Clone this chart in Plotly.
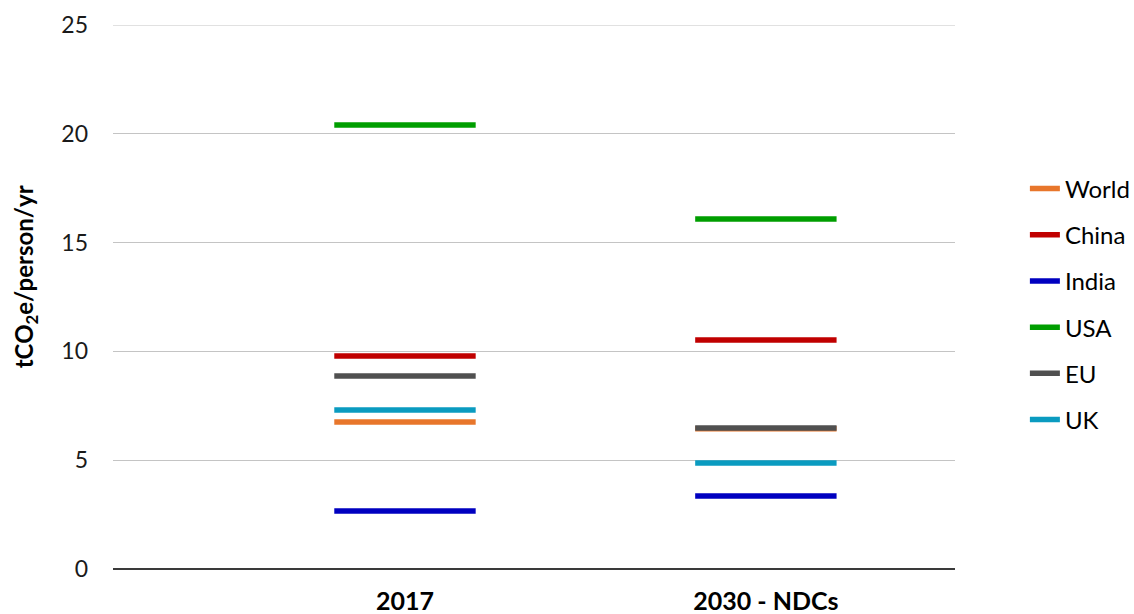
import plotly.graph_objects as go

# categories and per-capita emissions (tCO2e/person/yr)
categories = ["2017", "2030 - NDCs"]
series = ["World", "China", "India", "USA", "EU", "UK"]
world = [6.76, 6.45]
china = [9.79, 10.52]
india = [2.67, 3.35]
usa = [20.4, 16.08]
eu = [8.87, 6.48]
uk = [7.31, 4.87]
colours = ["#E8762B", "#C00000", "#0000C0", "#009E00", "#505050", "#0A9BC0"]

values = [world, china, india, usa, eu, uk]

fig = go.Figure()

for name, vals, col in zip(series, values, colours):
    # horizontal dash for each category
    fig.add_trace(go.Scatter(x=categories, y=vals, mode="markers", name=name,
                             legendgroup=name, showlegend=False,
                             marker=dict(symbol="line-ew", size=101,
                                         line=dict(color=col, width=5.5)),
                             hoverinfo="name+y"))
    # legend entry drawn as a line sample
    fig.add_trace(go.Scatter(x=[None], y=[None], mode="lines", name=name,
                             legendgroup=name, showlegend=True,
                             line=dict(color=col, width=5.5)))

# top gridline sits on the range edge, draw it explicitly
fig.add_hline(y=25, line=dict(color="#C4C4C4", width=1), layer="below")

# y title as annotation (sits a bit above the middle in the original)
fig.add_annotation(text="<b>tCO<sub>2</sub>e/person/yr</b>", textangle=-90,
                   xref="paper", yref="paper", x=-0.104, y=0.537,
                   xanchor="center", yanchor="middle", showarrow=False,
                   font=dict(size=24, color="#000000"))

fig.update_layout(
    width=1134, height=614,
    margin=dict(l=113, r=179, t=25, b=45, autoexpand=False),
    plot_bgcolor="white", paper_bgcolor="white",
    font=dict(family="Lato, Open Sans, sans-serif", size=23, color="#1a1a1a"),
    legend=dict(x=1.083, y=0.74, xanchor="left", yanchor="top",
                font=dict(size=24, color="#000000"), tracegroupgap=12, itemwidth=30),
)

fig.update_xaxes(type="category", range=[-0.809, 1.524], showgrid=False, automargin=False,
                 tickfont=dict(size=25, color="#000000"),
                 tickprefix="<b>", ticksuffix="</b>", ticklabelstandoff=15,
                 showline=False, zeroline=False)

fig.update_yaxes(range=[0, 25], dtick=5, showgrid=True, gridcolor="#C4C4C4", automargin=False,
                 gridwidth=1, zeroline=True, zerolinecolor="#3a3a3a", zerolinewidth=1.5,
                 ticks="", ticklabelstandoff=24, tickfont=dict(size=23))

# drop the page's default body margin so the figure sits at the window corner
fig.write_html("out.html", config={"displayModeBar": False},
               post_script="document.body.style.margin='0';")
